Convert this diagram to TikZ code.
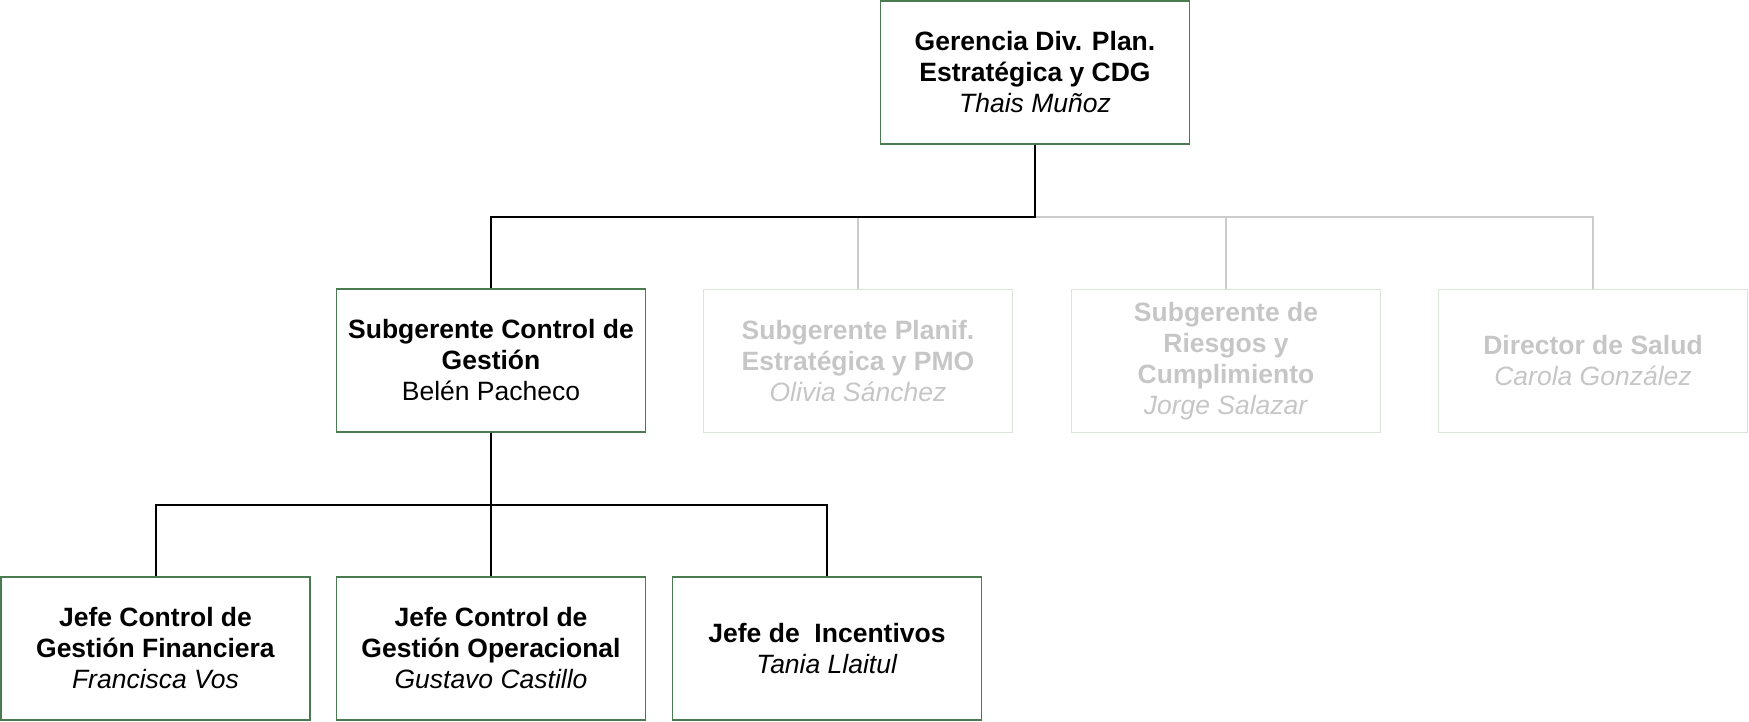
\documentclass[tikz,border=0pt]{standalone}
\usepackage{fontspec}
\setmainfont{Liberation Sans}
\definecolor{boxgreen}{HTML}{4A7A4F}
\definecolor{ghostgreen}{HTML}{D9E5D9}
\definecolor{ghosttext}{HTML}{C6C6C6}
\definecolor{ghostline}{HTML}{CCCCCC}
\begin{document}
\begin{tikzpicture}[x=1pt,y=-1pt,
  box/.style={draw=boxgreen, line width=1.4pt, minimum width=309pt, minimum height=143pt,
    inner sep=0pt, align=center, font=\fontsize{26.5}{31}\selectfont},
  ghost/.style={box, draw=ghostgreen, text=ghosttext},
  bline/.style={draw=black, line width=2pt},
  gline/.style={draw=ghostline, line width=2pt}]
\useasboundingbox (0,0) rectangle (1749,721);

\node[box] (top) at (1035,72.5) {\textbf{Gerencia Div. Plan.}\\\textbf{Estratégica y CDG}\\\textit{Thais Muñoz}};

\node[box] (sub1) at (491,360.5) {\textbf{Subgerente Control de}\\\textbf{Gestión}\\Belén Pacheco};
\node[ghost] (sub2) at (858,361) {\textbf{Subgerente Planif.}\\\textbf{Estratégica y PMO}\\\textit{Olivia Sánchez}};
\node[ghost] (sub3) at (1226,361) {\textbf{Subgerente de}\\\textbf{Riesgos y}\\\textbf{Cumplimiento}\\\textit{Jorge Salazar}};
\node[ghost] (sub4) at (1593,361) {\textbf{Director de Salud}\\\textit{Carola González}};

\node[box] (j1) at (155.5,648.5) {\textbf{Jefe Control de}\\\textbf{Gestión Financiera}\\\textit{Francisca Vos}};
\node[box] (j2) at (491,648.5) {\textbf{Jefe Control de}\\\textbf{Gestión Operacional}\\\textit{Gustavo Castillo}};
\node[box] (j3) at (827,648.5) {\textbf{Jefe de\ \ Incentivos}\\\textit{Tania Llaitul}};

\coordinate (bus1) at (1035,217);
\coordinate (bus2) at (491,505);

\draw[gline] (bus1) -| (sub4.north);
\draw[gline] (bus1 -| sub2.north) -- (sub2.north);
\draw[gline] (bus1 -| sub3.north) -- (sub3.north);
\draw[bline] (top.south) -- (bus1) -| (sub1.north);

\draw[bline] (sub1.south) -- (j2.north);
\draw[bline] (j1.north) |- (bus2) -| (j3.north);
\end{tikzpicture}
\end{document}
